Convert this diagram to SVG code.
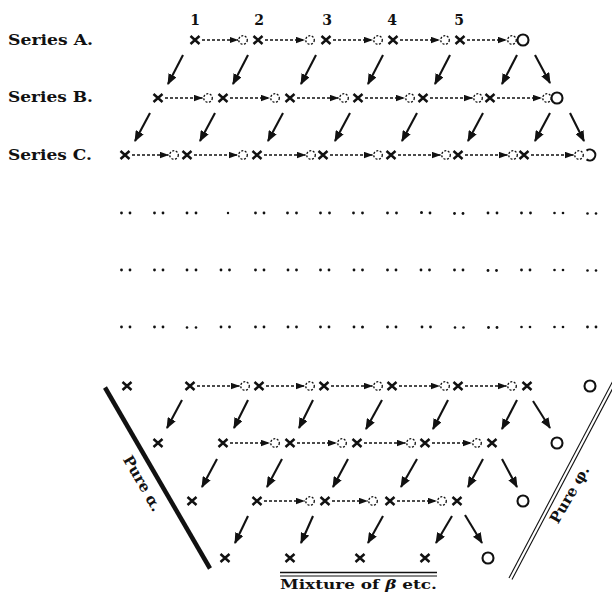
<svg xmlns="http://www.w3.org/2000/svg" xmlns:xlink="http://www.w3.org/1999/xlink" width="612" height="600" viewBox="0 0 612 600">
<style>
.lbl{font-family:"DejaVu Serif","Liberation Serif",serif;font-weight:bold;fill:#111}
.dsh{stroke:#111;stroke-width:1.3;stroke-dasharray:3 2;fill:none}
.dg{stroke:#111;stroke-width:2.1;fill:none}
.dot{fill:#111}
</style>
<defs>
<marker id="ha" markerUnits="userSpaceOnUse" markerWidth="9" markerHeight="7" refX="8.5" refY="3.5" orient="auto"><path d="M0,0.3 L9,3.5 L0,6.7 z" fill="#111"/></marker>
<marker id="hd" markerUnits="userSpaceOnUse" markerWidth="11" markerHeight="9" refX="10" refY="4.5" orient="auto"><path d="M0,0 L11,4.5 L0,9 z" fill="#111"/></marker>
<path id="xm" d="M-4.5,-4 L4.5,4 M-4.5,4 L4.5,-4" stroke="#111" stroke-width="2.5" fill="none"/>
<circle id="rg" r="4.3" fill="none" stroke="#111" stroke-width="1.3" stroke-dasharray="2 1.6"/>
<circle id="om" r="5.5" fill="none" stroke="#111" stroke-width="2.1"/>
</defs>
<rect width="612" height="600" fill="#fff"/>

<g id="labels">
<text class="lbl" x="8" y="45" font-size="15" textLength="85" lengthAdjust="spacingAndGlyphs">Series A.</text>
<text class="lbl" x="8" y="102" font-size="15" textLength="85" lengthAdjust="spacingAndGlyphs">Series B.</text>
<text class="lbl" x="8" y="160" font-size="15" textLength="84" lengthAdjust="spacingAndGlyphs">Series C.</text>
<g font-size="14" text-anchor="middle">
<text class="lbl" x="195" y="25">1</text>
<text class="lbl" x="259" y="25">2</text>
<text class="lbl" x="327" y="25">3</text>
<text class="lbl" x="392" y="25">4</text>
<text class="lbl" x="459" y="25">5</text>
</g>
<text class="lbl" x="138" y="486" font-size="15" text-anchor="middle" transform="rotate(60 138 486)">Pure α.</text>
<text class="lbl" x="574" y="497" font-size="15" text-anchor="middle" transform="rotate(-60 574 497)">Pure φ.</text>
<text class="lbl" x="280" y="589" font-size="13" textLength="157" lengthAdjust="spacingAndGlyphs">Mixture of <tspan font-style="italic">β</tspan> etc.</text>
</g>

<g id="boundaries">
<line x1="105" y1="387.5" x2="210" y2="568.5" stroke="#111" stroke-width="4.5"/>
<line x1="509" y1="578" x2="616" y2="375" stroke="#111" stroke-width="1.1"/>
<line x1="512" y1="579.5" x2="619" y2="376.5" stroke="#111" stroke-width="1.1"/>
<line x1="280" y1="572.5" x2="437" y2="572.5" stroke="#111" stroke-width="1.6"/>
<line x1="280" y1="576" x2="437" y2="576" stroke="#111" stroke-width="1.1"/>
</g>

<g id="rowA">
<g id="A0"><use href="#xm" x="195" y="40"/></g>
<g id="A1"><use href="#rg" x="243" y="40"/><use href="#xm" x="258" y="40"/></g>
<g id="A2"><use href="#rg" x="310" y="40"/><use href="#xm" x="326" y="40"/></g>
<g id="A3"><use href="#rg" x="378" y="40"/><use href="#xm" x="393" y="40"/></g>
<g id="A4"><use href="#rg" x="445" y="40"/><use href="#xm" x="460" y="40"/></g>
<g id="A5"><use href="#rg" x="512" y="40"/><use href="#om" x="523" y="40"/></g>
</g>
<g id="rowB">
<g id="B0"><use href="#xm" x="158" y="98"/></g>
<g id="B1"><use href="#rg" x="208" y="98"/><use href="#xm" x="223" y="98"/></g>
<g id="B2"><use href="#rg" x="275" y="98"/><use href="#xm" x="290" y="98"/></g>
<g id="B3"><use href="#rg" x="344" y="98"/><use href="#xm" x="358" y="98"/></g>
<g id="B4"><use href="#rg" x="410" y="98"/><use href="#xm" x="423" y="98"/></g>
<g id="B5"><use href="#rg" x="478" y="98"/><use href="#xm" x="490" y="98"/></g>
<g id="B6"><use href="#rg" x="547" y="98"/><use href="#om" x="557" y="98"/></g>
</g>
<g id="rowC">
<g id="C0"><use href="#xm" x="125" y="155"/></g>
<g id="C1"><use href="#rg" x="174" y="155"/><use href="#xm" x="187" y="155"/></g>
<g id="C2"><use href="#rg" x="243" y="155"/><use href="#xm" x="257" y="155"/></g>
<g id="C3"><use href="#rg" x="311" y="155"/><use href="#xm" x="323" y="155"/></g>
<g id="C4"><use href="#rg" x="378" y="155"/><use href="#xm" x="391" y="155"/></g>
<g id="C5"><use href="#rg" x="446" y="155"/><use href="#xm" x="458" y="155"/></g>
<g id="C6"><use href="#rg" x="513" y="155"/><use href="#xm" x="524" y="155"/></g>
<g id="C7"><use href="#rg" x="579" y="155"/><path d="M586.5,150.6 A5.5,5.5 0 1 1 586.5,159.4" fill="none" stroke="#111" stroke-width="2.1"/></g>
</g>

<g id="dots">
<g id="dotrow1">
<circle class="dot" cx="121.5" cy="213" r="1.4"/><circle class="dot" cx="130" cy="213" r="1.4"/>
<circle class="dot" cx="154.5" cy="213" r="1.4"/><circle class="dot" cx="163" cy="213" r="1.4"/>
<circle class="dot" cx="187" cy="213" r="1.4"/><circle class="dot" cx="196" cy="213" r="1.4"/>
<circle class="dot" cx="228" cy="213" r="1.2"/>
<circle class="dot" cx="255.5" cy="213" r="1.4"/><circle class="dot" cx="264" cy="213" r="1.4"/>
<circle class="dot" cx="287.5" cy="213" r="1.4"/><circle class="dot" cx="296.5" cy="213" r="1.4"/>
<circle class="dot" cx="320.5" cy="213" r="1.4"/><circle class="dot" cx="329.5" cy="213" r="1.4"/>
<circle class="dot" cx="353.5" cy="213" r="1.4"/><circle class="dot" cx="362.5" cy="213" r="1.4"/>
<circle class="dot" cx="387.5" cy="213" r="1.4"/><circle class="dot" cx="396.5" cy="213" r="1.4"/>
<circle class="dot" cx="421.5" cy="212.5" r="1.5"/><circle class="dot" cx="430" cy="213" r="1.4"/>
<circle class="dot" cx="454.5" cy="213.5" r="1.4"/><circle class="dot" cx="463" cy="213.5" r="1.4"/>
<circle class="dot" cx="488" cy="213" r="1.4"/><circle class="dot" cx="497" cy="213" r="1.4"/>
<circle class="dot" cx="521.5" cy="213" r="1.4"/><circle class="dot" cx="530.5" cy="213" r="1.4"/>
<circle class="dot" cx="554.5" cy="213" r="1.3"/><circle class="dot" cx="563" cy="213" r="1.3"/>
<circle class="dot" cx="587.5" cy="213.5" r="1.3"/><circle class="dot" cx="596" cy="213.5" r="1.3"/>
</g>
<g id="dotrow2">
<circle class="dot" cx="121.5" cy="270" r="1.4"/><circle class="dot" cx="130" cy="270" r="1.4"/>
<circle class="dot" cx="154.5" cy="270" r="1.4"/><circle class="dot" cx="163" cy="270" r="1.4"/>
<circle class="dot" cx="187" cy="270" r="1.4"/><circle class="dot" cx="196" cy="270" r="1.4"/>
<circle class="dot" cx="221" cy="270" r="1.4"/><circle class="dot" cx="229.5" cy="270" r="1.4"/>
<circle class="dot" cx="255.5" cy="270" r="1.4"/><circle class="dot" cx="264" cy="270" r="1.4"/>
<circle class="dot" cx="288" cy="270" r="1.4"/><circle class="dot" cx="296.5" cy="270" r="1.4"/>
<circle class="dot" cx="320.5" cy="270" r="1.4"/><circle class="dot" cx="329" cy="270" r="1.4"/>
<circle class="dot" cx="354" cy="270" r="1.4"/><circle class="dot" cx="362.5" cy="270" r="1.4"/>
<circle class="dot" cx="387.5" cy="270" r="1.4"/><circle class="dot" cx="396" cy="270" r="1.4"/>
<circle class="dot" cx="421" cy="270" r="1.4"/><circle class="dot" cx="429.5" cy="270" r="1.4"/>
<circle class="dot" cx="454.5" cy="270" r="1.4"/><circle class="dot" cx="463" cy="270" r="1.4"/>
<circle class="dot" cx="488" cy="270.5" r="1.4"/><circle class="dot" cx="496.5" cy="270.5" r="1.4"/>
<circle class="dot" cx="521.5" cy="270" r="1.4"/><circle class="dot" cx="530" cy="270" r="1.4"/>
<circle class="dot" cx="554.5" cy="270" r="1.3"/><circle class="dot" cx="563" cy="270" r="1.3"/>
<circle class="dot" cx="587.5" cy="270.5" r="1.3"/><circle class="dot" cx="596" cy="270.5" r="1.3"/>
</g>
<g id="dotrow3">
<circle class="dot" cx="121.5" cy="327" r="1.4"/><circle class="dot" cx="130" cy="327" r="1.4"/>
<circle class="dot" cx="154.5" cy="327" r="1.4"/><circle class="dot" cx="163" cy="327" r="1.4"/>
<circle class="dot" cx="187" cy="327.5" r="1.3"/><circle class="dot" cx="196" cy="327.5" r="1.3"/>
<circle class="dot" cx="221" cy="327" r="1.4"/><circle class="dot" cx="229.5" cy="327" r="1.4"/>
<circle class="dot" cx="255.5" cy="327" r="1.4"/><circle class="dot" cx="264" cy="327" r="1.4"/>
<circle class="dot" cx="288" cy="327" r="1.4"/><circle class="dot" cx="296.5" cy="327" r="1.4"/>
<circle class="dot" cx="320.5" cy="327" r="1.4"/><circle class="dot" cx="329" cy="327" r="1.4"/>
<circle class="dot" cx="354" cy="327" r="1.4"/><circle class="dot" cx="362.5" cy="327" r="1.5"/>
<circle class="dot" cx="387.5" cy="327" r="1.4"/><circle class="dot" cx="396" cy="327" r="1.4"/>
<circle class="dot" cx="422" cy="327" r="1.4"/><circle class="dot" cx="430.5" cy="327" r="1.4"/>
<circle class="dot" cx="455" cy="327.5" r="1.3"/><circle class="dot" cx="463.5" cy="327.5" r="1.3"/>
<circle class="dot" cx="488.5" cy="327.5" r="1.4"/><circle class="dot" cx="497" cy="327.5" r="1.4"/>
<circle class="dot" cx="521.5" cy="327" r="1.3"/><circle class="dot" cx="530" cy="327" r="1.3"/>
<circle class="dot" cx="554.5" cy="327" r="1.3"/><circle class="dot" cx="563" cy="327" r="1.3"/>
<circle class="dot" cx="587.5" cy="327" r="1.4"/><circle class="dot" cx="596" cy="327" r="1.4"/>
</g>
</g>

<g id="rowD">
<g id="D0"><use href="#xm" x="127" y="386"/></g>
<g id="D1"><use href="#xm" x="190" y="386"/></g>
<g id="D2"><use href="#rg" x="245" y="386"/><use href="#xm" x="259" y="386"/></g>
<g id="D3"><use href="#rg" x="310" y="386"/><use href="#xm" x="324" y="386"/></g>
<g id="D4"><use href="#rg" x="378" y="386"/><use href="#xm" x="392" y="386"/></g>
<g id="D5"><use href="#rg" x="445" y="386"/><use href="#xm" x="458" y="386"/></g>
<g id="D6"><use href="#rg" x="512" y="386"/><use href="#xm" x="527" y="386"/></g>
<g id="D7"><use href="#om" x="590" y="386"/></g>
</g>
<g id="rowE">
<g id="E0"><use href="#xm" x="158" y="443"/></g>
<g id="E1"><use href="#xm" x="223" y="443"/></g>
<g id="E2"><use href="#rg" x="275" y="443"/><use href="#xm" x="290" y="443"/></g>
<g id="E3"><use href="#rg" x="342" y="443"/><use href="#xm" x="357" y="443"/></g>
<g id="E4"><use href="#rg" x="411" y="443"/><use href="#xm" x="425" y="443"/></g>
<g id="E5"><use href="#rg" x="477" y="443"/><use href="#xm" x="492" y="443"/></g>
<g id="E6"><use href="#om" x="557" y="443"/></g>
</g>
<g id="rowF">
<g id="F0"><use href="#xm" x="192" y="501"/></g>
<g id="F1"><use href="#xm" x="257" y="501"/></g>
<g id="F2"><use href="#rg" x="310" y="501"/><use href="#xm" x="325" y="501"/></g>
<g id="F3"><use href="#rg" x="373" y="501"/><use href="#xm" x="390" y="501"/></g>
<g id="F4"><use href="#rg" x="442" y="501"/><use href="#xm" x="457" y="501"/></g>
<g id="F5"><use href="#om" x="523" y="501"/></g>
</g>
<g id="rowG">
<g id="G0"><use href="#xm" x="225" y="558"/></g>
<g id="G1"><use href="#xm" x="290" y="558"/></g>
<g id="G2"><use href="#xm" x="360" y="558"/></g>
<g id="G3"><use href="#xm" x="425" y="558"/></g>
<g id="G4"><use href="#om" x="488" y="558"/></g>
</g>

<g id="connectors">
<g class="dsh" marker-end="url(#ha)">
<line x1="202" y1="40" x2="238" y2="40"/><line x1="265" y1="40" x2="304.5" y2="40"/><line x1="333" y1="40" x2="372.5" y2="40"/><line x1="400" y1="40" x2="439.5" y2="40"/><line x1="467" y1="40" x2="506.5" y2="40"/>
<line x1="165" y1="98" x2="202.5" y2="98"/><line x1="230" y1="98" x2="269.5" y2="98"/><line x1="297" y1="98" x2="338.5" y2="98"/><line x1="365" y1="98" x2="404.5" y2="98"/><line x1="430" y1="98" x2="472.5" y2="98"/><line x1="497" y1="98" x2="541.5" y2="98"/>
<line x1="132" y1="155" x2="168.5" y2="155"/><line x1="194" y1="155" x2="237.5" y2="155"/><line x1="264" y1="155" x2="305.5" y2="155"/><line x1="330" y1="155" x2="372.5" y2="155"/><line x1="398" y1="155" x2="440.5" y2="155"/><line x1="465" y1="155" x2="507.5" y2="155"/><line x1="531" y1="155" x2="573.5" y2="155"/>
<line x1="197" y1="386" x2="239.5" y2="386"/><line x1="266" y1="386" x2="304.5" y2="386"/><line x1="331" y1="386" x2="372.5" y2="386"/><line x1="399" y1="386" x2="439.5" y2="386"/><line x1="465" y1="386" x2="506.5" y2="386"/>
<line x1="230" y1="443" x2="269.5" y2="443"/><line x1="297" y1="443" x2="336.5" y2="443"/><line x1="364" y1="443" x2="405.5" y2="443"/><line x1="432" y1="443" x2="471.5" y2="443"/>
<line x1="264" y1="501" x2="304.5" y2="501"/><line x1="332" y1="501" x2="367.5" y2="501"/><line x1="397" y1="501" x2="436.5" y2="501"/>
</g>
<g class="dg" marker-end="url(#hd)">
<line x1="183" y1="55" x2="168" y2="84"/><line x1="248" y1="55" x2="233" y2="84"/><line x1="316" y1="55" x2="301" y2="84"/><line x1="383" y1="55" x2="368" y2="84"/><line x1="450" y1="55" x2="435" y2="84"/><line x1="517" y1="55" x2="502" y2="84"/><line x1="535" y1="55" x2="550" y2="83"/>
<line x1="150" y1="113" x2="135" y2="141"/><line x1="215" y1="113" x2="200" y2="141"/><line x1="283" y1="113" x2="268" y2="141"/><line x1="350" y1="113" x2="335" y2="141"/><line x1="417" y1="113" x2="402" y2="141"/><line x1="483" y1="113" x2="468" y2="141"/><line x1="550" y1="113" x2="535" y2="141"/><line x1="570" y1="113" x2="584" y2="141"/>
<line x1="182" y1="400" x2="167" y2="428"/><line x1="248" y1="400" x2="234" y2="428"/><line x1="313" y1="400" x2="299" y2="428"/><line x1="382" y1="400" x2="366" y2="429"/><line x1="448" y1="400" x2="433" y2="429"/><line x1="517" y1="400" x2="502" y2="429"/><line x1="533" y1="401" x2="550" y2="428"/>
<line x1="217" y1="459" x2="202" y2="487"/><line x1="282" y1="459" x2="267" y2="487"/><line x1="348" y1="459" x2="333" y2="487"/><line x1="417" y1="459" x2="401" y2="487"/><line x1="483" y1="459" x2="468" y2="487"/><line x1="502" y1="459" x2="517" y2="487"/>
<line x1="248" y1="516" x2="235" y2="543"/><line x1="313" y1="516" x2="301" y2="543"/><line x1="383" y1="516" x2="368" y2="543"/><line x1="452" y1="516" x2="436" y2="543"/><line x1="465" y1="515" x2="482" y2="543"/>
</g>
</g>
</svg>
